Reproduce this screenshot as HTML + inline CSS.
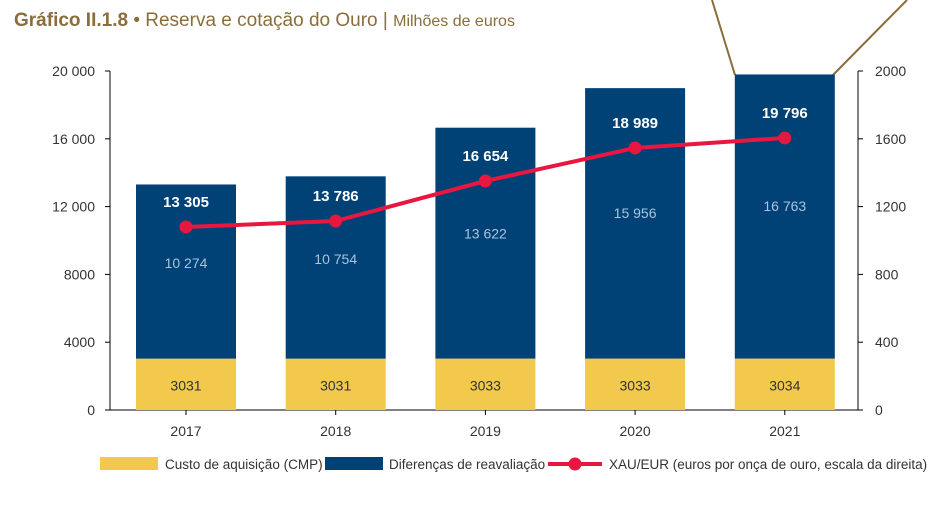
<!DOCTYPE html>
<html><head><meta charset="utf-8"><style>
body{margin:0;background:#fff;width:941px;height:503px;overflow:hidden;font-family:"Liberation Sans",sans-serif}
</style></head><body>
<svg id="c" width="941" height="503" xmlns="http://www.w3.org/2000/svg">
<text x="14" y="26" font-size="19" fill="#8a6d3b"><tspan font-weight="bold">Gráfico II.1.8</tspan> • Reserva e cotação do Ouro <tspan>|</tspan> <tspan font-size="16">Milhões de euros</tspan></text>
<line x1="712" y1="0" x2="735" y2="75" stroke="#8a6d3b" stroke-width="2"/>
<line x1="907" y1="0" x2="833" y2="75" stroke="#8a6d3b" stroke-width="2"/>
</svg>
<script>
const years=["2017","2018","2019","2020","2021"];
const acquisition=[3031,3031,3033,3033,3034];
const revaluation=[10274,10754,13622,15956,16763];
const totals=[13305,13786,16654,18989,19796];
const xau=[1080,1115,1351,1546,1605];
const leftTicks=[0,4000,8000,12000,16000,20000];
const rightTicks=[0,400,800,1200,1600,2000];
const NS="http://www.w3.org/2000/svg",svg=document.getElementById("c");
const y0=410,yTop=71,L=110,R=858;
const yL=v=>y0-(v/20000)*(y0-yTop);
const yR=v=>y0-(v/2000)*(y0-yTop);
const xC=i=>186+i*149.7;
const fmt=v=>v>=10000?String(v).replace(/(\d+)(\d{3})$/,"$1 $2"):String(v);
function el(t,a,txt){const e=document.createElementNS(NS,t);for(const k in a)e.setAttribute(k,a[k]);if(txt!==undefined)e.textContent=txt;svg.appendChild(e);return e;}
// axes
let e=el("line",{x1:L,y1:yTop,x2:L,y2:y0,stroke:"#000"});


e=el("line",{x1:R,y1:yTop,x2:R,y2:y0,stroke:"#000"});


e=el("line",{x1:L,y1:y0,x2:R,y2:y0,stroke:"#000"});


leftTicks.forEach(v=>{
 el("line",{x1:L-5,y1:yL(v),x2:L,y2:yL(v),stroke:"#000"});
 const t=el("text",{x:95,y:yL(v)+5,"text-anchor":"end","font-size":"14",fill:"#333"},v>=10000?fmt(v):String(v));
 
 
});
rightTicks.forEach(v=>{
 el("line",{x1:R,y1:yR(v),x2:R+5,y2:yR(v),stroke:"#000"});
 const t=el("text",{x:875,y:yR(v)+5,"font-size":"14",fill:"#333"},String(v));
 
 
});
years.forEach((yr,i)=>{
 const x=xC(i),w=100;
 el("line",{x1:x,y1:y0,x2:x,y2:y0+5,stroke:"#000"});
 let r=el("rect",{x:x-w/2,y:yL(acquisition[i]),width:w,height:y0-yL(acquisition[i]),fill:"#f2c94c"});
 
 
 const top=acquisition[i]+revaluation[i];
 r=el("rect",{x:x-w/2,y:yL(top),width:w,height:yL(acquisition[i])-yL(top),fill:"#004176"});
 
 
 let t=el("text",{x:x,y:(yL(acquisition[i])+y0)/2+6,"text-anchor":"middle","font-size":"14",fill:"#333"},String(acquisition[i]));
 
 
 t=el("text",{x:x,y:yL(acquisition[i]+revaluation[i]*0.52),"text-anchor":"middle","font-size":"14",fill:"#a9c4de"},fmt(revaluation[i]));
 
 
 t=el("text",{x:x,y:yR(xau[i])-20,"text-anchor":"middle","font-size":"15","font-weight":"bold",fill:"#fff"},fmt(totals[i]));
 
 
 t=el("text",{x:x,y:y0+26,"text-anchor":"middle","font-size":"14",fill:"#333"},yr);
 
 
});
e=el("polyline",{points:xau.map((v,i)=>xC(i)+","+yR(v)).join(" "),fill:"none",stroke:"#e8173f","stroke-width":"4"});


xau.forEach((v,i)=>{
 const c=el("circle",{cx:xC(i),cy:yR(v),r:6.5,fill:"#e8173f"});
 
 
});
// legend
let g=el("rect",{x:100,y:457,width:58,height:13,fill:"#f2c94c"});


g=el("text",{x:165,y:469,"font-size":"13.5",fill:"#333"},"Custo de aquisição (CMP)");


g=el("rect",{x:325,y:457,width:58,height:13,fill:"#004176"});


g=el("text",{x:389,y:469,"font-size":"13.5",fill:"#333"},"Diferenças de reavaliação");


g=el("line",{x1:548,y1:464,x2:602,y2:464,stroke:"#e8173f","stroke-width":"4"});


el("circle",{cx:575,cy:464,r:6.5,fill:"#e8173f"});
g=el("text",{x:609,y:469,"font-size":"13.5",fill:"#333"},"XAU/EUR (euros por onça de ouro, escala da direita)");


</script>
</body></html>
